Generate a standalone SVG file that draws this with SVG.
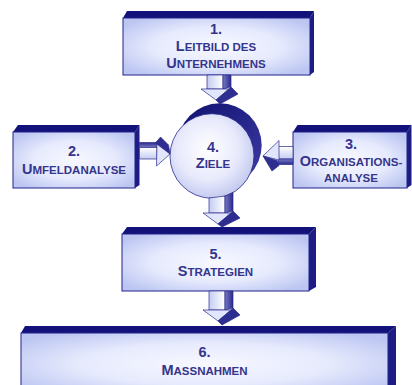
<svg xmlns="http://www.w3.org/2000/svg" width="412" height="385" viewBox="0 0 412 385">
<style>
.top{fill:#12127a}
.side{fill:#1c1c84}
.face{fill:url(#faceGrad);stroke:#22228a;stroke-width:1}
.t{font-family:"Liberation Sans",Arial,sans-serif;font-weight:bold;font-size:11.5px;fill:#35358c;text-anchor:middle}
.b{font-size:14.5px}
.al{stroke:#2a2a8a;stroke-width:0.7;stroke-linejoin:round}
.vl{fill:url(#vLight)}
.vd{fill:url(#vDark)}
.hl{fill:url(#hLight)}
.hd{fill:url(#hDark)}
.hdl{fill:url(#hDarkL)}
.head{fill:#e2e6fc}
.headd{fill:#2e2e90}
</style>
<defs>
<radialGradient id="faceGrad" cx="0.5" cy="0.5" r="0.62">
<stop offset="0" stop-color="#f7f8ff"/>
<stop offset="0.55" stop-color="#e6eafd"/>
<stop offset="1" stop-color="#bcc6f2"/>
</radialGradient>
<radialGradient id="circGrad" cx="0.45" cy="0.42" r="0.6">
<stop offset="0" stop-color="#ffffff"/>
<stop offset="0.6" stop-color="#e8eafc"/>
<stop offset="1" stop-color="#c2c8ef"/>
</radialGradient>
<linearGradient id="cresGrad" x1="0" y1="0" x2="1" y2="1">
<stop offset="0" stop-color="#101070"/>
<stop offset="1" stop-color="#3c3ca4"/>
</linearGradient>
<linearGradient id="vLight" x1="0" y1="0" x2="1" y2="0">
<stop offset="0" stop-color="#c4ccf2"/>
<stop offset="1" stop-color="#ffffff"/>
</linearGradient>
<linearGradient id="vDark" x1="0" y1="0" x2="1" y2="0">
<stop offset="0" stop-color="#7878c4"/>
<stop offset="1" stop-color="#2a2a8c"/>
</linearGradient>
<linearGradient id="hLight" x1="0" y1="0" x2="0" y2="1">
<stop offset="0" stop-color="#ffffff"/>
<stop offset="1" stop-color="#c4ccf2"/>
</linearGradient>
<linearGradient id="hDark" x1="0" y1="0" x2="0" y2="1">
<stop offset="0" stop-color="#2a2a8c"/>
<stop offset="1" stop-color="#7878c4"/>
</linearGradient>
<linearGradient id="hDarkL" x1="0" y1="0" x2="0" y2="1">
<stop offset="0" stop-color="#7878c4"/>
<stop offset="1" stop-color="#2a2a8c"/>
</linearGradient>
</defs>

<g id="node1">
<polygon class="top" points="123,18 127,11 314,11 310,18"/>
<polygon class="side" points="310,18 314,11 314,72 310,75"/>
<rect class="face" x="123" y="18" width="187" height="57"/>
<text class="t" x="216" y="33.5"><tspan class="b">1.</tspan></text>
<text class="t" x="216" y="50.5"><tspan class="b">L</tspan>EITBILD DES</text>
<text class="t" x="216" y="68"><tspan class="b">U</tspan>NTERNEHMENS</text>
</g>

<g id="node2">
<polygon class="top" points="13,132 18,125 139.5,125 135,132"/>
<polygon class="side" points="135,132 139.5,125 139.5,185 135,188"/>
<rect class="face" x="13" y="132" width="122" height="56"/>
<text class="t" x="74" y="156"><tspan class="b">2.</tspan></text>
<text class="t" x="74" y="174"><tspan class="b">U</tspan>MFELDANALYSE</text>
</g>

<g id="node3">
<polygon class="top" points="293,132 297.5,125 411.5,125 407,132"/>
<polygon class="side" points="407,132 411.5,125 411.5,185 407,188"/>
<rect class="face" x="293" y="132" width="114" height="56"/>
<text class="t" x="351" y="148.5"><tspan class="b">3.</tspan></text>
<text class="t" x="351" y="165.5"><tspan class="b">O</tspan>RGANISATIONS-</text>
<text class="t" x="351" y="182">ANALYSE</text>
</g>

<g id="node4">
<circle cx="219.7" cy="145.3" r="42" fill="url(#cresGrad)"/>
<ellipse cx="212" cy="156" rx="42" ry="42.3" fill="url(#circGrad)" stroke="#2a2a8a" stroke-width="0.8"/>
<text class="t" x="213" y="152"><tspan class="b">4.</tspan></text>
<text class="t" x="213" y="167.5"><tspan class="b">Z</tspan>IELE</text>
</g>

<g id="node5">
<polygon class="top" points="122,234 127,227 316,227 309,234"/>
<polygon class="side" points="309,234 316,227 316,287 309,291"/>
<rect class="face" x="122" y="234" width="187" height="57"/>
<text class="t" x="215.5" y="259"><tspan class="b">5.</tspan></text>
<text class="t" x="215.5" y="276"><tspan class="b">S</tspan>TRATEGIEN</text>
</g>

<g id="node6">
<polygon class="top" points="21,333 25,326 396,326 388,333"/>
<polygon class="side" points="388,333 396,326 396,395 388,395"/>
<rect class="face" x="21" y="333" width="367" height="62"/>
<text class="t" x="204.5" y="357"><tspan class="b">6.</tspan></text>
<text class="t" x="204.5" y="374.5"><tspan class="b">M</tspan>ASSNAHMEN</text>
</g>

<g id="connectors">
<g id="a1">
<polygon class="vl al" points="207,75 223,75 223,89 207,89"/>
<polygon class="vd al" points="223,75 231,75 231,87 223,89"/>
<polygon class="head al" points="201,89 229,89 216,100"/>
<polygon class="headd al" points="229,89 231,87 238,94 220,104 216,100"/>
</g>
<g id="a2">
<polygon class="vl al" points="209,198 225,196 225,213 209,213"/>
<polygon class="vd al" points="225,196 233,192.5 233,211 225,213"/>
<polygon class="head al" points="203,213 231,213 218,224"/>
<polygon class="headd al" points="231,213 233,211 240,218 222,227 218,224"/>
</g>
<g id="a3">
<polygon class="vl al" points="209,291 225,291 225,310 209,310"/>
<polygon class="vd al" points="225,291 233,291 233,308 225,310"/>
<polygon class="head al" points="203,310 231,310 218,321"/>
<polygon class="headd al" points="231,310 233,308 240,315 222,325 218,321"/>
</g>
<g id="a4">
<polygon class="hd al" points="139.5,142.5 157,142.5 157,147.5 139.5,147.5"/>
<polygon class="hl al" points="139.5,147.5 157,147.5 157,159 139.5,159"/>
<polygon class="head al" points="157,141 170,154 156.5,166"/>
<polygon class="headd al" points="155.5,143 160.5,137 168.5,145 170,154"/>
</g>
<g id="a5">
<polygon class="hl al" points="278,146.5 293,146.5 293,159 278,159"/>
<polygon class="hdl al" points="278,159 293,159 293,164.5 278,164.5"/>
<polygon class="head al" points="279,140.5 279,160 263,156"/>
<polygon class="headd al" points="263,156 277,160.5 279,165.5 272,171"/>
</g>
</g>
</svg>
